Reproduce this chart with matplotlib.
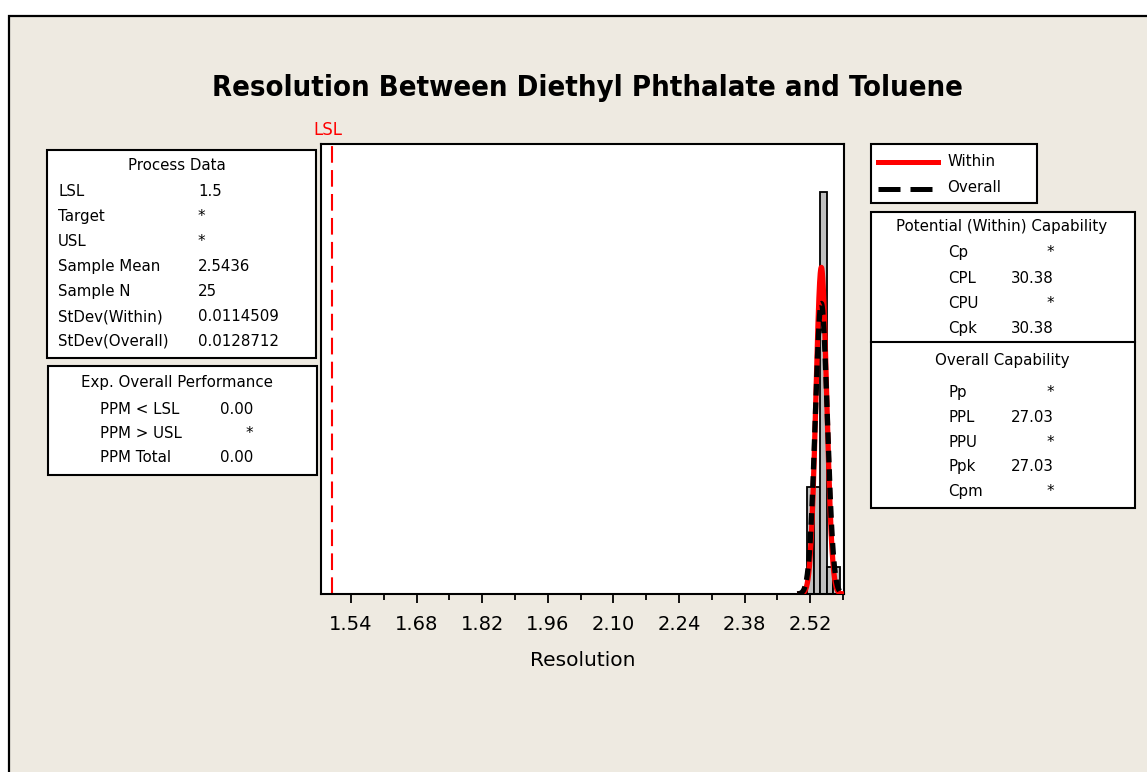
import numpy as np
import matplotlib
matplotlib.use('Agg')
import matplotlib.pyplot as plt
from matplotlib.patches import Rectangle
from matplotlib.lines import Line2D
from matplotlib.ticker import MultipleLocator

W, H = 1147, 772
BG = '#EEEAE1'

# process figures
lsl = 1.5
sample_mean = 2.5436
sample_n = 25
sd_within = 0.0114509
sd_overall = 0.0128712

# histogram of the 25 resolution values
bin_edges = np.array([2.513, 2.527, 2.541, 2.555, 2.569, 2.583])
bin_counts = np.array([4, 4, 15, 1, 1])

xtick_values = [1.54, 1.68, 1.82, 1.96, 2.10, 2.24, 2.38, 2.52]
xtick_labels = ['1.54', '1.68', '1.82', '1.96', '2.10', '2.24', '2.38', '2.52']

process_labels = ['LSL', 'Target', 'USL', 'Sample Mean', 'Sample N',
                  'StDev(Within)', 'StDev(Overall)']
process_values = ['1.5', '*', '*', '2.5436', '25', '0.0114509', '0.0128712']

perf_labels = ['PPM < LSL', 'PPM > USL', 'PPM Total']
perf_values = ['0.00', '*', '0.00']

within_labels = ['Cp', 'CPL', 'CPU', 'Cpk']
within_values = ['*', '30.38', '*', '30.38']

overall_labels = ['Pp', 'PPL', 'PPU', 'Ppk', 'Cpm']
overall_values = ['*', '27.03', '*', '27.03', '*']


def fx(px):
    return px / W


def fy(py):
    return 1 - py / H


def box(fig, x0, y0, x1, y1, lw=1.5):
    r = Rectangle((fx(x0), fy(y1)), fx(x1) - fx(x0), fy(y0) - fy(y1),
                  transform=fig.transFigure, facecolor='white',
                  edgecolor='black', linewidth=lw, zorder=2)
    fig.add_artist(r)


plt.rcParams['font.family'] = ['DejaVu Sans']
fig = plt.figure(figsize=(W / 100, H / 100), dpi=100, facecolor='white')

# beige panel with a border on the top and left
panel = Rectangle((fx(9), -0.1), 1.2, fy(16) + 0.1, transform=fig.transFigure,
                  facecolor=BG, edgecolor='black', linewidth=1.6, zorder=0)
fig.add_artist(panel)

ax = fig.add_axes([fx(321), fy(594), fx(844) - fx(321), fy(144) - fy(594)])
ax.set_facecolor('white')

widths = np.diff(bin_edges)
density = bin_counts / (sample_n * widths)
ax.bar(bin_edges[:-1], density, width=widths, align='edge',
       color='#C0C0C0', edgecolor='black', linewidth=1.3, zorder=2)

xs = np.linspace(sample_mean - 4 * sd_overall, sample_mean + 4 * sd_overall, 400)
pdf_w = np.exp(-0.5 * ((xs - sample_mean) / sd_within) ** 2) / (sd_within * np.sqrt(2 * np.pi))
pdf_o = np.exp(-0.5 * ((xs - sample_mean) / sd_overall) ** 2) / (sd_overall * np.sqrt(2 * np.pi))
ax.plot(xs, pdf_w, color='#FF0000', lw=3.8, zorder=3, solid_capstyle='butt')
ax.plot(xs, pdf_o, color='black', lw=3.8, ls=(0, (2.2, 1.3)), zorder=4)

ax.axvline(lsl, color='#FF0000', lw=1.5, ls=(0, (8, 3.5)), zorder=1)

ax.set_xlim(1.476, 2.592)
ax.set_ylim(0, 48)
ax.set_yticks([])
ax.set_xticks(xtick_values)
ax.set_xticklabels(xtick_labels, fontsize=14)
ax.xaxis.set_minor_locator(MultipleLocator(0.07))
ax.tick_params(axis='x', which='major', direction='out', length=6.2, width=1.3, pad=9)
ax.tick_params(axis='x', which='minor', direction='out', length=4.3, width=1.3)
for s in ax.spines.values():
    s.set_linewidth(1.5)
ax.set_xlabel('Resolution', fontsize=14.5, labelpad=12)

fig.text(fx(587), fy(88), 'Resolution Between Diethyl Phthalate and Toluene',
         fontsize=21, fontweight='bold', fontstretch='condensed',
         ha='center', va='center')
fig.text(fx(328), fy(130), 'LSL', color='#FF0000', fontsize=12,
         ha='center', va='center')

fs = 10.8
# process data box
box(fig, 47, 150, 316, 358)
fig.text(fx(177), fy(165), 'Process Data', fontsize=fs, ha='center', va='center')
for i, (lab, val) in enumerate(zip(process_labels, process_values)):
    y = 191.5 + 25 * i
    fig.text(fx(58), fy(y), lab, fontsize=fs, va='center')
    fig.text(fx(198), fy(y), val, fontsize=fs, va='center')

# expected performance box
box(fig, 48, 366, 317, 475)
fig.text(fx(177), fy(383), 'Exp. Overall Performance', fontsize=fs,
         ha='center', va='center')
for i, (lab, val) in enumerate(zip(perf_labels, perf_values)):
    y = 409 + 24.5 * i
    fig.text(fx(100), fy(y), lab, fontsize=fs, va='center')
    fig.text(fx(253), fy(y), val, fontsize=fs, va='center', ha='right')

# legend
box(fig, 871, 144, 1037, 203)
fig.add_artist(Line2D([fx(878), fx(938)], [fy(162), fy(162)],
                      transform=fig.transFigure, color='#FF0000', lw=3.6, zorder=3))
fig.add_artist(Line2D([fx(878), fx(932)], [fy(188.5), fy(188.5)],
                      transform=fig.transFigure, color='black', lw=3.6,
                      ls=(0, (4.4, 2.0)), zorder=3))
fig.text(fx(947), fy(161), 'Within', fontsize=fs, va='center', zorder=3)
fig.text(fx(947), fy(188), 'Overall', fontsize=fs, va='center', zorder=3)

# capability box
box(fig, 871, 212, 1135, 508)
fig.add_artist(Line2D([fx(871), fx(1135)], [fy(342), fy(342)],
                      transform=fig.transFigure, color='black', lw=1.5, zorder=3))
fig.text(fx(1002), fy(227), 'Potential (Within) Capability', fontsize=fs,
         ha='center', va='center', zorder=3)
for i, (lab, val) in enumerate(zip(within_labels, within_values)):
    y = 253 + 25.2 * i
    fig.text(fx(948), fy(y), lab, fontsize=fs, va='center', zorder=3)
    fig.text(fx(1054), fy(y), val, fontsize=fs, va='center', ha='right', zorder=3)
fig.text(fx(1002), fy(360), 'Overall Capability', fontsize=fs,
         ha='center', va='center', zorder=3)
for i, (lab, val) in enumerate(zip(overall_labels, overall_values)):
    y = 393 + 24.6 * i
    fig.text(fx(948), fy(y), lab, fontsize=fs, va='center', zorder=3)
    fig.text(fx(1054), fy(y), val, fontsize=fs, va='center', ha='right', zorder=3)

fig.savefig('out.png', dpi=100, facecolor='white')
